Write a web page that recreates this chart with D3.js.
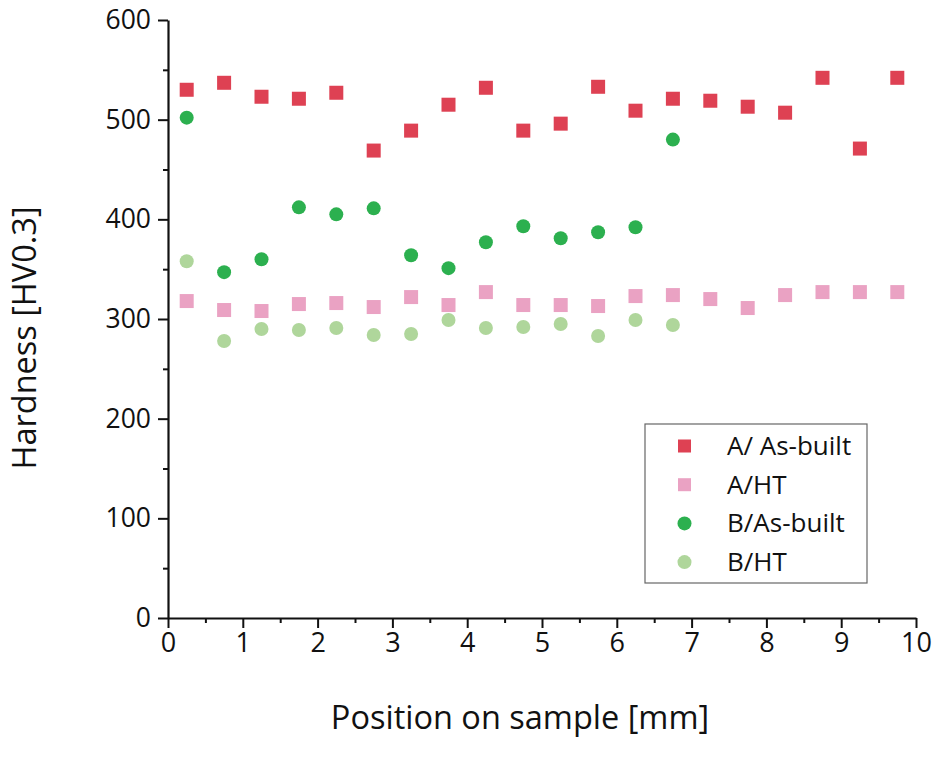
<!DOCTYPE html>
<html>
<head>
<meta charset="utf-8">
<script src="https://cdn.jsdelivr.net/npm/d3@7"></script>
<style>
  body { margin: 0; background: #fff; }
  text { font-family: "Open Sans", "Noto Sans", sans-serif; fill: #111; }
</style>
</head>
<body>
<div id="canvas"></div>
<script>
// positions along the sample (mm)
const posA = [0.25, 0.75, 1.25, 1.75, 2.25, 2.75, 3.25, 3.75, 4.25, 4.75,
              5.25, 5.75, 6.25, 6.75, 7.25, 7.75, 8.25, 8.75, 9.25, 9.75];
const posB = [0.25, 0.75, 1.25, 1.75, 2.25, 2.75, 3.25, 3.75, 4.25, 4.75,
              5.25, 5.75, 6.25, 6.75];

const aAsBuilt = [530, 537, 523, 521, 527, 469, 489, 515, 532, 489,
                  496, 533, 509, 521, 519, 513, 507, 542, 471, 542];
const aHT = [318, 309, 308, 315, 316, 312, 322, 314, 327, 314,
             314, 313, 323, 324, 320, 311, 324, 327, 327, 327];
const bAsBuilt = [502, 347, 360, 412, 405, 411, 364, 351, 377, 393,
                  381, 387, 392, 480];
const bHT = [358, 278, 290, 289, 291, 284, 285, 299, 291, 292,
             295, 283, 299, 294];

const seriesNames = ["A/ As-built", "A/HT", "B/As-built", "B/HT"];
const xTicks = [0, 1, 2, 3, 4, 5, 6, 7, 8, 9, 10];
const yTicks = [0, 100, 200, 300, 400, 500, 600];

const series = [
  { name: seriesNames[0], x: posA, y: aAsBuilt, shape: "square", color: "#de4153" },
  { name: seriesNames[1], x: posA, y: aHT, shape: "square", color: "#eaa2c3" },
  { name: seriesNames[2], x: posB, y: bAsBuilt, shape: "circle", color: "#2cb04f" },
  { name: seriesNames[3], x: posB, y: bHT, shape: "circle", color: "#afd69b" }
];

const margin = { Top: 20, Right: 35, Bottom: 152, Left: 168 };
const width = 951 - margin.Left - margin.Right;
const height = 770 - margin.Top - margin.Bottom;

const svg = d3.select("#canvas").append("svg")
    .attr("width", 951)
    .attr("height", 770);

const g = svg.append("g")
    .attr("transform", `translate(${margin.Left}, ${margin.Top})`);

const x = d3.scaleLinear().domain([0, 10]).range([0, width]);
const y = d3.scaleLinear().domain([0, 600]).range([height, 0]);

// minor ticks first, then major ticks with labels
g.append("g")
    .attr("transform", `translate(0, ${height})`)
    .call(d3.axisBottom(x).tickValues(d3.range(0.5, 10, 1)).tickSize(5).tickFormat(""))
    .call(a => a.select(".domain").remove());
g.append("g")
    .call(d3.axisLeft(y).tickValues(d3.range(50, 600, 100)).tickSize(5).tickFormat(""))
    .call(a => a.select(".domain").remove());

const xAxis = g.append("g")
    .attr("class", "x axis")
    .attr("transform", `translate(0, ${height})`)
    .call(d3.axisBottom(x).tickValues(xTicks).tickSize(10).tickSizeOuter(0).tickPadding(5));
xAxis.selectAll("text").style("font-size", "27px");

const yAxis = g.append("g")
    .attr("class", "y axis")
    .call(d3.axisLeft(y).tickValues(yTicks).tickSize(10).tickSizeOuter(0).tickPadding(7));
yAxis.selectAll("text").style("font-size", "26.5px");

svg.selectAll(".tick line").attr("stroke", "#111").attr("stroke-width", 2);
svg.selectAll(".domain").attr("stroke", "#111").attr("stroke-width", 2.2);

// axis titles
svg.append("text")
    .attr("x", 520)
    .attr("y", 729)
    .attr("text-anchor", "middle")
    .style("font-size", "32.5px")
    .text("Position on sample [mm]");

svg.append("text")
    .attr("transform", "translate(36, 338) rotate(-90)")
    .attr("text-anchor", "middle")
    .style("font-size", "32.5px")
    .text("Hardness [HV0.3]");

// markers
const sq = 14, r = 7;
series.forEach(s => {
  const pts = s.x.map((v, i) => [v, s.y[i]]);
  if (s.shape === "square") {
    g.selectAll(null).data(pts).enter().append("rect")
        .attr("x", d => x(d[0]) - sq / 2)
        .attr("y", d => y(d[1]) - sq / 2)
        .attr("width", sq)
        .attr("height", sq)
        .attr("fill", s.color);
  } else {
    g.selectAll(null).data(pts).enter().append("circle")
        .attr("cx", d => x(d[0]))
        .attr("cy", d => y(d[1]))
        .attr("r", r)
        .attr("fill", s.color);
  }
});

// legend
const legend = svg.append("g").attr("transform", "translate(645, 424)");
legend.append("rect")
    .attr("width", 222)
    .attr("height", 159)
    .attr("fill", "#fff")
    .attr("stroke", "#666")
    .attr("stroke-width", 1.2);

series.forEach((s, i) => {
  const row = legend.append("g").attr("transform", `translate(0, ${22 + i * 38.7})`);
  if (s.shape === "square") {
    row.append("rect").attr("x", 33).attr("y", -6.5).attr("width", 13).attr("height", 13).attr("fill", s.color);
  } else {
    row.append("circle").attr("cx", 39.5).attr("cy", 0).attr("r", 7).attr("fill", s.color);
  }
  row.append("text")
      .attr("x", 82)
      .attr("y", 9)
      .style("font-size", "26px")
      .text(s.name);
});
</script>
</body>
</html>
